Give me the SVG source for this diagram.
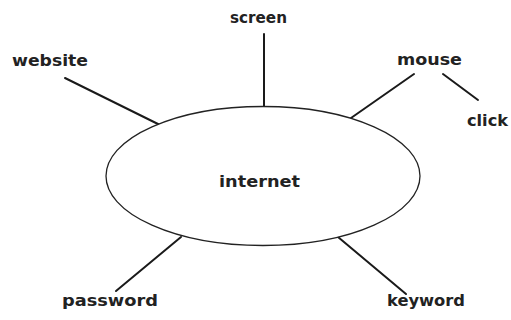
<svg xmlns="http://www.w3.org/2000/svg" width="511" height="320" viewBox="0 0 511 320">
<style>
.lbl{font-family:"DejaVu Sans","Liberation Sans",sans-serif;font-size:16px;font-weight:bold;fill:#222}
.ln{stroke:#1a1a1a;stroke-width:2;fill:none;stroke-linecap:round}
</style>
<rect width="511" height="320" fill="#fff"/>
<g id="connectors">
<line class="ln" x1="264" y1="34" x2="264" y2="107"/>
<line class="ln" x1="65" y1="78" x2="160" y2="125"/>
<line class="ln" x1="414" y1="74" x2="351" y2="118"/>
<line class="ln" x1="443" y1="74" x2="478" y2="100"/>
<line class="ln" x1="181" y1="237" x2="116" y2="291"/>
<line class="ln" x1="338" y1="237" x2="406" y2="294"/>
</g>
<g id="internet">
<ellipse cx="263" cy="176" rx="157" ry="69.5" fill="#fff" stroke="#222" stroke-width="1.3"/>
<text class="lbl" x="219" y="187" textLength="81" lengthAdjust="spacingAndGlyphs">internet</text>
</g>
<g id="screen"><text class="lbl" x="230" y="23" textLength="57" lengthAdjust="spacingAndGlyphs">screen</text></g>
<g id="website"><text class="lbl" x="12" y="66" textLength="76" lengthAdjust="spacingAndGlyphs">website</text></g>
<g id="mouse"><text class="lbl" x="397" y="65" textLength="65" lengthAdjust="spacingAndGlyphs">mouse</text></g>
<g id="click"><text class="lbl" x="467" y="126" textLength="41" lengthAdjust="spacingAndGlyphs">click</text></g>
<g id="password"><text class="lbl" x="62" y="306" textLength="96" lengthAdjust="spacingAndGlyphs">password</text></g>
<g id="keyword"><text class="lbl" x="387" y="306" textLength="78" lengthAdjust="spacingAndGlyphs">keyword</text></g>
</svg>
